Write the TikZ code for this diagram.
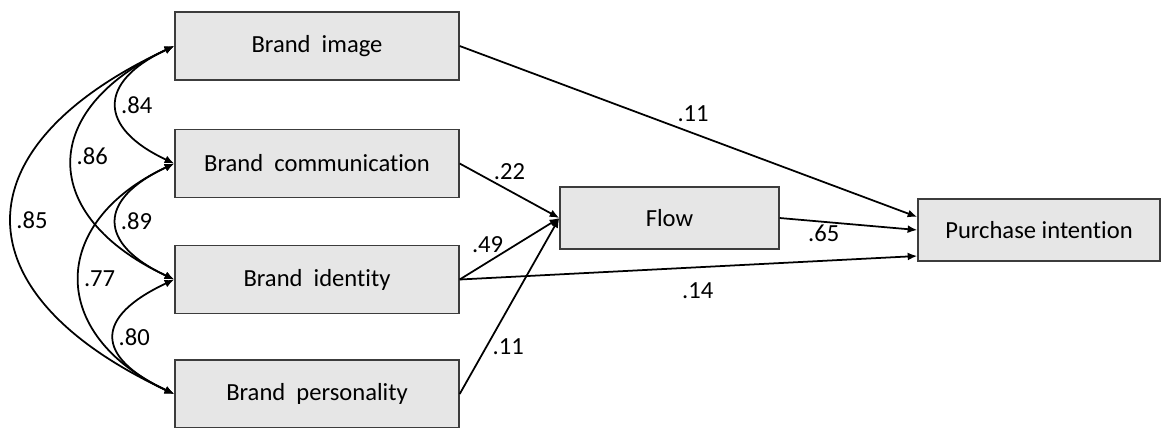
\documentclass[tikz,border=0pt]{standalone}
\usepackage{fontspec}
\setmainfont{Carlito}[Ligatures={NoCommon}]
\usetikzlibrary{arrows.meta, positioning, calc}
\definecolor{boxGray}{RGB}{230,230,230}
\definecolor{edgeGray}{RGB}{60,60,60}

\begin{document}
\begin{tikzpicture}[x=0.02cm, y=-0.02cm,
    var/.style={draw=edgeGray, fill=boxGray, line width=0.8pt, minimum width=5.68cm, minimum height=1.36cm, font=\fontsize{14}{16}\selectfont},
    lbl/.style={font=\fontsize{14}{16}\selectfont, inner sep=2pt},
    arr/.style={line width=1pt, -{Latex[length=5.5pt, width=4.5pt]}},
    cov/.style={line width=1pt, {Latex[length=5.5pt, width=4.5pt]}-{Latex[length=5.5pt, width=4.5pt]}}]

    \useasboundingbox (0,0) rectangle (1161,427);

    % exogenous
    \node[var] (img) at (317,46) {Brand~~image};
    \node[var] (comm) at (317,163.5) {Brand~~communication};
    \node[var] (iden) at (317,279.5) {Brand~~identity};
    \node[var] (pers) at (317,394) {Brand~~personality};

    % mediator and outcome
    \node[var, minimum width=4.38cm, minimum height=1.24cm] (flow) at (669.5,218) {Flow};
    \node[var, minimum width=4.84cm, minimum height=1.24cm] (pi) at (1039,230) {Purchase intention};

    \draw[arr] (img.east) -- ([yshift=0.26cm]pi.west) node[lbl, pos=0.51, above=4pt] {.11};
    \draw[arr] (comm.east) -- (flow.west) node[lbl, pos=0.5, above=4pt] {.22};
    \draw[arr] (iden.east) -- (flow.west) node[lbl, pos=0.28, above=3pt] {.49};
    \draw[arr] (pers.east) -- (flow.west) node[lbl, pos=0.27, right=1pt] {.11};
    \draw[arr] (iden.east) -- ([yshift=-0.52cm]pi.west) node[lbl, pos=0.52, below=6.5pt] {.14};
    \draw[arr] (flow.east) -- (pi.west) node[lbl, pos=0.32, below=-1pt] {.65};

    % correlations
    \draw[cov] (img.west) to[out=205, in=155, looseness=1.85] node[lbl, right] {.84} (comm.west);
    \draw[cov] (img.west) to[out=205, in=155, looseness=1.65] node[lbl, right, yshift=4pt] {.86} (iden.west);
    \draw[cov] (img.west) to[out=205, in=155, looseness=1.76] node[lbl, right] {.85} (pers.west);
    \draw[cov] (comm.west) to[out=205, in=155, looseness=1.88] node[lbl, right] {.89} (iden.west);
    \draw[cov] (comm.west) to[out=205, in=155, looseness=1.55] node[lbl, right] {.77} (pers.west);
    \draw[cov] (iden.west) to[out=205, in=155, looseness=1.98] node[lbl, right] {.80} (pers.west);
\end{tikzpicture}
\end{document}
